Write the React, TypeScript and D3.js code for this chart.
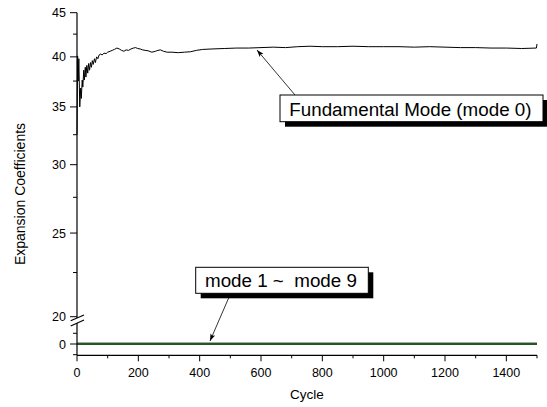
import React from "react";
import * as d3 from "d3";

// ---- data ----
const mode0Cycles = [0, 2, 4, 6, 9, 12, 14, 17, 19, 22, 24, 27, 29, 32, 35, 38, 41, 44, 47, 50, 53, 57, 60, 64, 68, 72, 77, 82, 88, 95, 100, 108, 115, 122, 130, 138, 145, 153, 160, 168, 176, 184, 191, 198, 206, 214, 222, 232, 244, 256, 264, 272, 282, 294, 310, 330, 350, 370, 390, 410, 440, 480, 520, 560, 600, 640, 680, 720, 760, 800, 850, 900, 950, 1000, 1050, 1100, 1150, 1200, 1250, 1300, 1350, 1400, 1450, 1498, 1500];
const mode0Values = [32.5, 40.1, 37.5, 39.8, 35.0, 36.8, 35.8, 37.6, 36.9, 38.6, 37.6, 38.9, 37.9, 39.1, 38.3, 39.3, 38.6, 39.4, 38.9, 39.6, 39.2, 39.8, 39.4, 40.0, 39.8, 40.2, 40.3, 40.2, 40.4, 40.35, 40.5, 40.6, 40.7, 40.8, 40.95, 40.85, 40.7, 40.6, 40.75, 40.7, 40.85, 40.95, 41.0, 40.9, 40.85, 40.75, 40.7, 40.65, 40.5, 40.6, 40.7, 40.75, 40.6, 40.5, 40.5, 40.45, 40.5, 40.55, 40.7, 40.8, 40.85, 40.9, 40.95, 40.95, 41.0, 41.05, 41.0, 41.1, 41.15, 41.1, 41.1, 41.15, 41.1, 41.1, 41.1, 41.05, 41.1, 41.05, 41.0, 41.0, 40.95, 40.95, 40.9, 40.95, 41.4];

const higherModeCycles = [0, 1500];
const higherModeNames = ["mode 1", "mode 2", "mode 3", "mode 4", "mode 5", "mode 6", "mode 7", "mode 8", "mode 9"];
const higherModeValues = [
  [0.0, 0.0],
  [0.0, 0.0],
  [0.0, 0.0],
  [0.0, 0.0],
  [0.0, 0.0],
  [0.0, 0.0],
  [0.0, 0.0],
  [0.1, 0.1],
  [0.0, 0.0],
];
const higherModeColors = ["#ff0000", "#0000ff", "#00ffff", "#ff00ff", "#ffff00", "#808000", "#000080", "#6a2a6a", "#1b5e1b"];

const xTicks = [0, 200, 400, 600, 800, 1000, 1200, 1400];
const xMinorTicks = [100, 300, 500, 700, 900, 1100, 1300, 1500];
const yTopTicks = [20, 25, 30, 35, 40, 45];
const yTopMinor = [22.5, 27.5, 32.5, 37.5, 42.5];
const yBotTicks = [0];
const yBotMinor = [-1, 1];

const W = 547, H = 407;
const FONT = "Arial, 'Liberation Sans', sans-serif";

export default function App() {
  const x = d3.scaleLinear().domain([0, 1500]).range([77, 537]);
  const yTop = d3.scaleLog().domain([20, 45]).range([316.7, 12.7]);
  const yBot = d3.scaleLinear().domain([-1, 1]).range([354.7, 333.3]);
  const axisX = 77;
  const axisY = 355.3;

  const line0 = d3.line<number>()
    .x((_, i) => x(mode0Cycles[i]))
    .y((v) => yTop(v));
  const lineLow = d3.line<number>()
    .x((_, i) => x(higherModeCycles[i]))
    .y((v) => yBot(v));

  return (
    <svg width={W} height={H} style={{ position: "absolute", left: 0, top: 0, background: "#fff" }} fontFamily={FONT}>
      <defs>
        <marker id="arr" viewBox="0 0 10 10" refX="10" refY="5" markerWidth="9" markerHeight="7" orient="auto" markerUnits="userSpaceOnUse">
          <path d="M0,1.5 L10,5 L0,8.5 L2,5 Z" fill="#000" />
        </marker>
      </defs>

      {/* higher modes */}
      {higherModeValues.map((vals, k) => (
        <path key={higherModeNames[k]} d={lineLow(vals) || ""} fill="none" stroke={higherModeColors[k]} strokeWidth={k === 8 ? 1.8 : k === 7 ? 0.8 : 1} />
      ))}
      {/* fundamental mode */}
      <path d={line0(mode0Values) || ""} fill="none" stroke="#000" strokeWidth={1} />

      {/* y axis with break */}
      <line x1={axisX} x2={axisX} y1={yTop(45)} y2={318} stroke="#000" strokeWidth={1.2} />
      <line x1={axisX} x2={axisX} y1={323} y2={axisY} stroke="#000" strokeWidth={1.2} />
      <line x1={70.7} y1={320.7} x2={84} y2={315} stroke="#000" strokeWidth={1.2} />
      <line x1={70.7} y1={326} x2={84} y2={320} stroke="#000" strokeWidth={1.2} />
      {yTopTicks.map((t) => (
        <g key={"yt" + t}>
          <line x1={axisX - 7} x2={axisX} y1={yTop(t)} y2={yTop(t)} stroke="#000" strokeWidth={1} />
          <text x={66} y={yTop(t)} dy="0.36em" textAnchor="end" fontSize={12.5} fill="#000">{t}</text>
        </g>
      ))}
      {yTopMinor.map((t) => (
        <line key={"ytm" + t} x1={axisX - 4} x2={axisX} y1={yTop(t)} y2={yTop(t)} stroke="#000" strokeWidth={1} />
      ))}
      {yBotTicks.map((t) => (
        <g key={"yb" + t}>
          <line x1={axisX - 7} x2={axisX} y1={yBot(t)} y2={yBot(t)} stroke="#000" strokeWidth={1} />
          <text x={66} y={yBot(t)} dy="0.36em" textAnchor="end" fontSize={12.5} fill="#000">{t}</text>
        </g>
      ))}
      {yBotMinor.map((t) => (
        <line key={"ybm" + t} x1={axisX - 4} x2={axisX} y1={yBot(t)} y2={yBot(t)} stroke="#000" strokeWidth={1} />
      ))}

      {/* x axis */}
      <line x1={axisX} x2={x(1500)} y1={axisY} y2={axisY} stroke="#000" strokeWidth={1.2} />
      {xTicks.map((t) => (
        <g key={"xt" + t}>
          <line x1={x(t)} x2={x(t)} y1={axisY} y2={axisY + 6} stroke="#000" strokeWidth={1} />
          <text x={x(t)} y={376.5} textAnchor="middle" fontSize={12.5} fill="#000">{t}</text>
        </g>
      ))}
      {xMinorTicks.map((t) => (
        <line key={"xm" + t} x1={x(t)} x2={x(t)} y1={axisY} y2={axisY + 3} stroke="#000" strokeWidth={1} />
      ))}

      {/* axis titles */}
      <text x={307} y={399} textAnchor="middle" fontSize={13.5} fill="#000">Cycle</text>
      <text transform="translate(25,194) rotate(-90)" textAnchor="middle" fontSize={14} fill="#000">Expansion Coefficients</text>

      {/* annotation 1 */}
      <line x1={295} y1={95} x2={257} y2={50} stroke="#000" strokeWidth={0.8} markerEnd="url(#arr)" />
      <rect x={285} y={100} width={263} height={26.7} fill="#000" />
      <rect x={280} y={95} width={263} height={26.7} fill="#fff" stroke="#000" strokeWidth={1} />
      <text x={289.3} y={115.5} fontSize={18.8} fill="#000">Fundamental Mode (mode 0)</text>

      {/* annotation 2 */}
      <line x1={230.7} y1={293.3} x2={210} y2={341} stroke="#000" strokeWidth={0.8} markerEnd="url(#arr)" />
      <rect x={200.7} y={272.3} width={172.6} height={26} fill="#000" />
      <rect x={195.7} y={267.3} width={172.6} height={26} fill="#fff" stroke="#000" strokeWidth={1} />
      <text x={205} y={287} fontSize={18.8} fill="#000" style={{ whiteSpace: "pre" }}>{"mode 1 ~  mode 9"}</text>
    </svg>
  );
}
